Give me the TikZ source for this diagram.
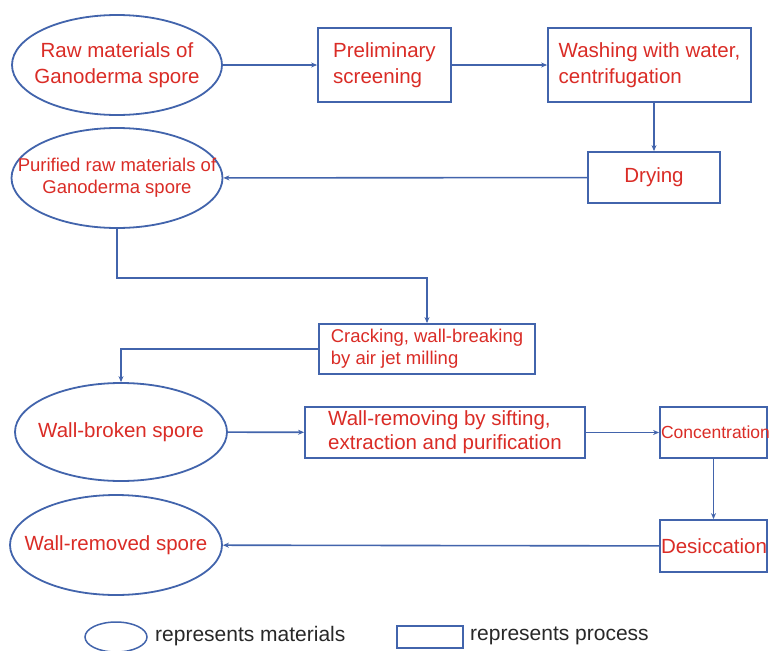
\documentclass[tikz,border=0pt]{standalone}
\usepackage{fontspec}
\setmainfont{Liberation Sans}
\usetikzlibrary{shapes.geometric,arrows.meta}
\definecolor{lineblue}{RGB}{66,100,172}
\definecolor{txtred}{RGB}{218,44,38}
\definecolor{legtxt}{RGB}{40,40,40}
\begin{document}
\begin{tikzpicture}[x=1pt,y=-1pt,
  mat/.style={draw=lineblue, line width=1.8pt, ellipse, inner sep=0pt},
  proc/.style={draw=lineblue, line width=1.8pt, rectangle, inner sep=0pt, text=txtred, align=left},
  txt/.style={text=txtred, align=center, inner sep=0pt},
  conn/.style={draw=lineblue, line width=1.6pt, -{Stealth[length=6pt,width=5pt]}},
  big/.style={font=\fontsize{20.5}{26}\selectfont},
  mid/.style={font=\fontsize{18.5}{22}\selectfont},
]
\fill[white] (0,0) rectangle (769,651);
\useasboundingbox (0,0) rectangle (769,651);

% materials (ellipses)
\node[mat, minimum width=210pt, minimum height=100pt,
  label={[txt,big]center:{Raw materials of\\Ganoderma spore}}] (e1) at (117,65) {};
\node[mat, minimum width=211pt, minimum height=100pt,
  label={[txt,mid]center:{Purified raw materials of\\Ganoderma spore}}] (e2) at (117,178) {};
\node[mat, minimum width=212pt, minimum height=98pt,
  label={[txt,big]center:{Wall-broken spore}}] (e3) at (121,432) {};
\node[mat, minimum width=212pt, minimum height=100pt,
  label={[txt,big]center:{Wall-removed spore}}] (e4) at (116,545) {};

% processes (rectangles)
\node[proc, big, minimum width=133pt, minimum height=74pt] (pre) at (384.5,65) {Preliminary\\screening};
\node[proc, big, minimum width=203pt, minimum height=74pt] (wash) at (649.5,65) {Washing with water,\\centrifugation};
\node[proc, big, minimum width=132pt, minimum height=51pt] (dry) at (654,177.5) {Drying};
\node[proc, mid, minimum width=216pt, minimum height=50pt] (crack) at (427,349) {Cracking, wall-breaking\\by air jet milling};
\node[proc, font=\fontsize{20.5}{24}\selectfont, minimum width=280pt, minimum height=51pt] (wr) at (445,432.5) {Wall-removing by sifting,\\extraction and purification};
\node[proc, font=\fontsize{17.5}{20}\selectfont, inner xsep=1pt, text width=105pt, minimum height=51pt] (conc) at (713.5,432.5) {Concentration};
\node[proc, big, inner xsep=1pt, text width=105pt, minimum height=52pt] (des) at (713.5,546) {Desiccation};

% connectors
\draw[conn] (e1) -- (pre);
\draw[conn] (pre) -- (wash);
\draw[conn] (wash.south -| dry.north) -- (dry.north);
\draw[conn] (dry) -- (e2);
\draw[conn] (e2.south) -- ++(0,49) -| (crack.north);
\draw[conn] (crack.west) -| (e3.north);
\draw[conn] (e3) -- (wr);
\draw[conn] (wr) -- (conc);
\draw[conn] (conc) -- (des);
\draw[conn] (des) -- (e4);

% legend
\node[mat, line width=1.5pt, minimum width=62pt, minimum height=30pt] (legE) at (116,637) {};
\node[anchor=west, inner sep=0pt, text=legtxt, font=\fontsize{21}{24}\selectfont] (legEt) at (155,636) {represents materials};
\node[proc, line width=1.5pt, minimum width=66pt, minimum height=22pt] (legR) at (430,637) {};
\node[anchor=west, inner sep=0pt, text=legtxt, font=\fontsize{21}{24}\selectfont] (legRt) at (470,636) {represents process};
\end{tikzpicture}
\end{document}
